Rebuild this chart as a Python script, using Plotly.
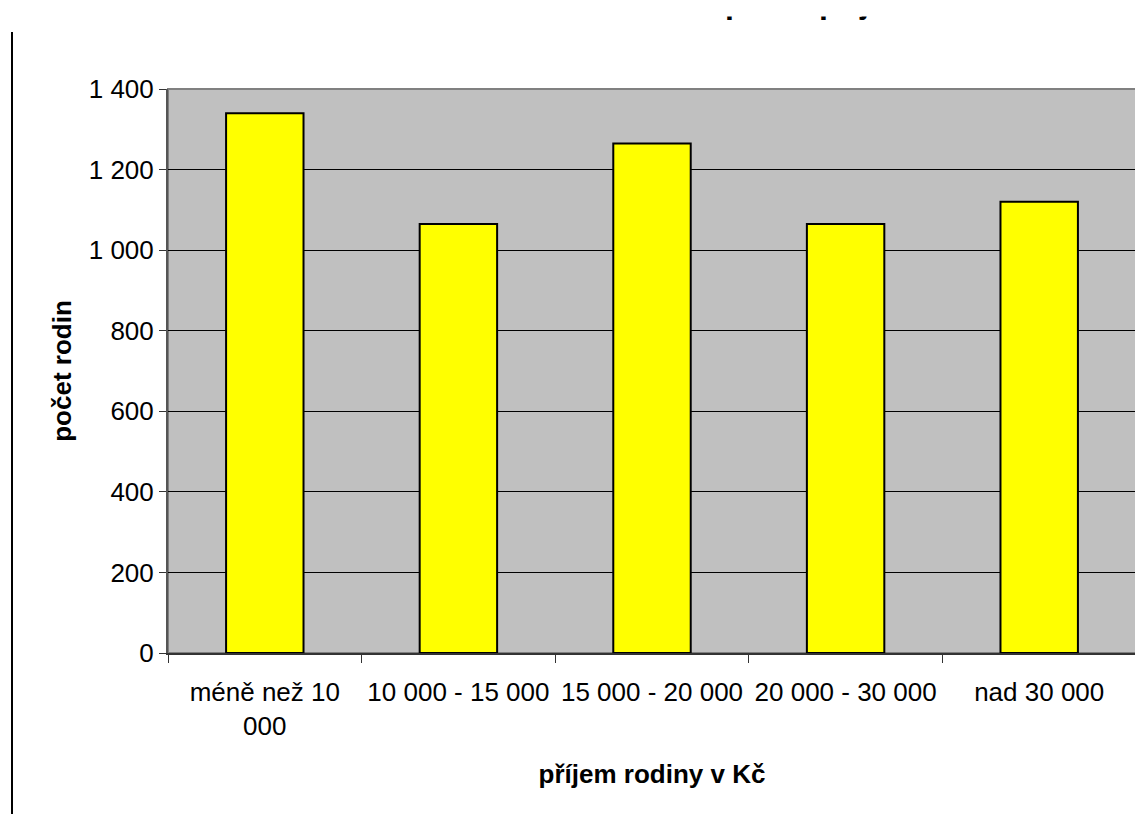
import plotly.graph_objects as go

categories = ["méně než 10<br>000", "10 000 - 15 000", "15 000 - 20 000", "20 000 - 30 000", "nad 30 000"]
values = [1340, 1065, 1265, 1065, 1120]
y_tickvals = [0, 200, 400, 600, 800, 1000, 1200, 1400]

title_text = "Rozdělení rodin podle příjmu"
x_title = "příjem rodiny v Kč"
y_title = "počet rodin"

# page has an 8px body margin, so the figure is drawn 8px right/down
W, H = 1135, 806
L, R, T, B = 160, 7, 81, 161

fig = go.Figure(go.Bar(
    x=categories, y=values,
    marker=dict(color="#FFFF00", line=dict(color="#000000", width=2)),
    width=0.4,
))

font_family = "Liberation Sans, Arial, sans-serif"

fig.update_layout(
    width=W, height=H,
    margin=dict(l=L, r=R, t=T, b=B, autoexpand=False),
    paper_bgcolor="#FFFFFF",
    plot_bgcolor="#C0C0C0",
    separators=", ",
    font=dict(family=font_family, size=26, color="#000000"),
    showlegend=False,
    bargap=0.6,
)

fig.update_xaxes(
    type="category",
    showline=True, linecolor="#333333", linewidth=2,
    ticks="outside", tickson="boundaries", ticklen=8, tickcolor="#333333", tickwidth=1,
    ticklabelstandoff=15,
    showgrid=False,
    tickfont=dict(size=26),
    title=dict(text=x_title, font=dict(size=26, family=font_family, weight="bold"), standoff=25),
)
fig.update_yaxes(
    range=[0, 1400],
    tickvals=y_tickvals,
    tickformat=",d",
    showline=True, linecolor="#555555", linewidth=2,
    ticks="outside", ticklen=7, tickcolor="#333333", tickwidth=1,
    showgrid=True, gridcolor="#000000", gridwidth=1,
    zeroline=False,
    tickfont=dict(size=26),
    title=dict(text=y_title, font=dict(size=26, family=font_family, weight="bold"), standoff=10),
)

# plot-area border (grey)
fig.add_shape(type="rect", xref="paper", yref="paper", x0=0, x1=1, y0=0, y1=1,
              line=dict(color="#808080", width=2), layer="below")

plot_w = W - L - R
plot_h = H - T - B

# outer chart border (left edge visible)
x_left = (4 - L) / plot_w
fig.add_shape(type="line", xref="paper", yref="paper", x0=x_left, x1=x_left,
              y0=-(B + 10) / plot_h, y1=1 + (T - 24) / plot_h,
              line=dict(color="#000000", width=2))

# chart title, cut off at the top edge
fig.add_annotation(text="<b>" + title_text + "</b>", xref="paper", yref="paper",
                   x=(466 - L) / plot_w, y=1 + (T + 6) / plot_h, xanchor="left", yanchor="middle",
                   showarrow=False, font=dict(size=32, family=font_family))
# white band above: the upper part of the title lies outside the captured area
fig.add_annotation(text=" ", xref="paper", yref="paper",
                   x=0.5, y=1 + (T - 9) / plot_h, xanchor="center", yanchor="bottom",
                   width=1300, height=60, bgcolor="#FFFFFF", showarrow=False)

fig.write_html("out.html")
